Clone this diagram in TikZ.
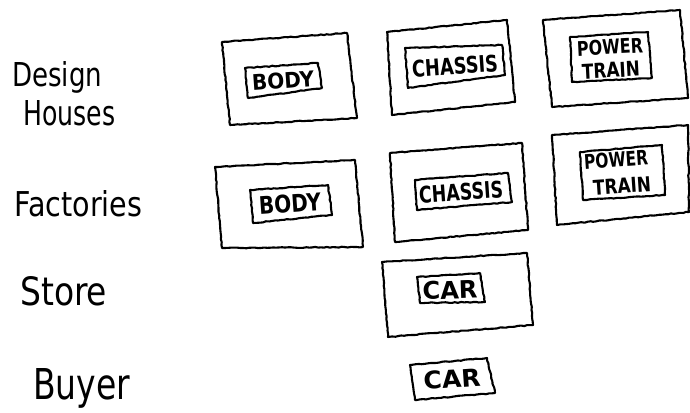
\documentclass[tikz,border=0pt]{standalone}
\usepackage{fontspec}
\setmainfont{DejaVu Sans}
\usetikzlibrary{decorations.pathmorphing}
\newcommand\sk[3]{\resizebox{#1pt}{#2pt}{#3}}
\begin{document}
\begin{tikzpicture}[x=1pt,y=-1pt,
  sketch/.style={draw=black,line width=2.1pt,line join=round,line cap=round,
    decorate,decoration={random steps,segment length=3pt,amplitude=0.45pt}},
  lbl/.style={inner sep=0pt,anchor=base west},
  boxtxt/.style={inner sep=0pt,anchor=center,font=\bfseries}]
\pgfmathsetseed{7}
\useasboundingbox (0,0) rectangle (690,412);
% row labels
\node[lbl] (design) at (12,86) {\sk{90}{25}{Design}};
\node[lbl] (houses) at (23,125) {\sk{92}{25}{Houses}};
\node[lbl] (fact) at (14,216) {\sk{128}{26}{Factories}};
\node[lbl] (store) at (20,305) {\sk{87}{29}{Store}};
\node[lbl] (buyer) at (33,399) {\sk{97}{31}{Buyer}};
% row 1: design houses
\draw[sketch] (222,42) -- (347,33) -- (357,118) -- (230,125) -- cycle;
\draw[sketch] (245,68) -- (318,63) -- (322,88) -- (248,98) -- cycle;
\node[boxtxt,rotate=4] (dbody) at (283,81) {\sk{62}{16}{BODY}};
\draw[sketch] (387,32) -- (507,20) -- (515,102) -- (392,115) -- cycle;
\draw[sketch] (405,48) -- (502,45) -- (505,75) -- (408,88) -- cycle;
\node[boxtxt,rotate=4] (dchassis) at (455,66) {\sk{86}{17}{CHASSIS}};
\draw[sketch] (543,20) -- (680,10) -- (688,98) -- (552,107) -- cycle;
\draw[sketch] (570,37) -- (648,32) -- (652,78) -- (572,82) -- cycle;
\node[boxtxt,rotate=3] (dpower) at (610,47) {\sk{66}{15}{POWER}};
\node[boxtxt,rotate=3] (dtrain) at (611,70) {\sk{58}{15}{TRAIN}};
% row 2: factories
\draw[sketch] (215,167) -- (355,160) -- (363,247) -- (222,248) -- cycle;
\draw[sketch] (250,190) -- (328,185) -- (332,215) -- (253,223) -- cycle;
\node[boxtxt,rotate=4] (fbody) at (290,204) {\sk{62}{18}{BODY}};
\draw[sketch] (390,153) -- (522,143) -- (528,230) -- (395,242) -- cycle;
\draw[sketch] (415,180) -- (508,173) -- (512,202) -- (417,210) -- cycle;
\node[boxtxt,rotate=4] (fchassis) at (461,192) {\sk{84}{17}{CHASSIS}};
\draw[sketch] (552,135) -- (688,125) -- (689,212) -- (557,225) -- cycle;
\draw[sketch] (580,152) -- (662,145) -- (665,195) -- (583,200) -- cycle;
\node[boxtxt,rotate=4] (fpower) at (616,160) {\sk{64}{15}{POWER}};
\node[boxtxt,rotate=4] (ftrain) at (622,186) {\sk{58}{15}{TRAIN}};
% row 3: store
\draw[sketch] (382,262) -- (527,253) -- (533,325) -- (388,337) -- cycle;
\draw[sketch] (417,277) -- (480,273) -- (485,302) -- (420,303) -- cycle;
\node[boxtxt,rotate=2] (scar) at (450,290) {\sk{55}{18}{CAR}};
% row 4: buyer
\draw[sketch] (410,365) -- (487,358) -- (495,393) -- (415,400) -- cycle;
\node[boxtxt,rotate=4] (bcar) at (452,379) {\sk{57}{18}{CAR}};
\end{tikzpicture}
\end{document}
